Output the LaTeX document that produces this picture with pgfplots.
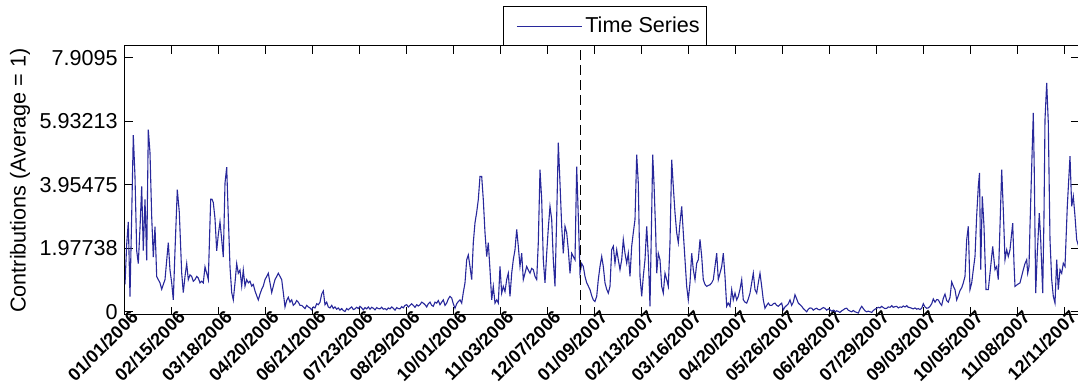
\documentclass[border=0pt]{standalone}
\usepackage{fontspec}
\setmainfont{Liberation Sans}
\usepackage{pgfplots}
\pgfplotsset{compat=1.18}
\definecolor{series}{RGB}{40,40,155}
\begin{document}
\begin{tikzpicture}
\begin{axis}[
  name=ax, at={(0,0)}, anchor=south west,
  scale only axis, width=477pt, height=134.5pt,
  xmin=0, xmax=954, ymin=-0.1, ymax=8.27,
  xtick={0,46.95,93.9,140.85,187.8,234.75,281.7,328.65,375.6,422.55,469.5,516.45,563.4,610.35,657.3,704.25,751.2,798.15,845.1,892.05,939},
  xticklabels={01/01/2006,02/15/2006,03/18/2006,04/20/2006,06/21/2006,07/23/2006,08/29/2006,10/01/2006,11/03/2006,12/07/2006,01/09/2007,02/13/2007,03/16/2007,04/20/2007,05/26/2007,06/28/2007,07/29/2007,09/03/2007,10/05/2007,11/08/2007,12/11/2007},
  ytick={0,1.97738,3.95475,5.93213,7.9095},
  yticklabels={0,1.97738,3.95475,5.93213,7.9095},
  tick align=inside, xtick pos=both, ytick pos=both,
  major tick length=4pt,
  axis line style={black, line width=0.5pt},
  tick style={black, line width=0.5pt},
  yticklabel style={font=\fontsize{10.8}{12}\selectfont, inner sep=0pt, xshift=-3.5pt},
  xticklabel style={font=\fontsize{9}{11}\selectfont\bfseries, inner sep=0pt, xshift=5pt, yshift=0.5pt, rotate=45, anchor=east},
  ylabel={Contributions (Average = 1)},
  every axis y label/.style={at={(axis description cs:0,0.5)}, xshift=-52.5pt, rotate=90, anchor=center, font=\fontsize{10.8}{13}\selectfont},
  legend style={at={(0.5,1)}, anchor=south, xshift=1.5pt, draw=black, line width=0.5pt, fill=white, font=\fontsize{10.8}{13}\selectfont, inner xsep=2pt, inner ysep=3.5pt, nodes={inner sep=1.5pt}},
  legend image code/.code={\path (0pt,0pt); \draw[#1] (4.5pt,0pt) -- (37pt,0pt);},
]
\addplot[series, line width=0.55pt] coordinates {
(0,0.85) (1.7,2.1) (3.3,2.8) (5,0.47) (6.7,3.0) (8.3,5.5) (10,4.2) (11.7,1.9) (13.3,1.5) (15,2.6) (16.7,3.9) (18.3,1.9) (20,3.5) (21.7,1.6) (23.3,5.67) (25,4.95) (26.7,2.96) (28.3,1.7) (30,2.65) (31.7,1.1) (33.3,1.0) (35,0.9) (36.7,0.7) (38.3,0.85) (40,1.0) (41.7,1.6) (43.3,2.15) (45,1.3) (46.7,0.9) (48.3,0.37) (50,1.9) (52.3,3.8) (54.3,3.1) (56.7,1.2) (58.3,0.6) (60,1.1) (61.7,1.5) (63.3,1.0) (65,1.15) (66.7,1.1) (68.3,0.95) (70,1.0) (71.7,1.1) (73.3,1.05) (75,0.9) (76.7,0.95) (78.3,0.9) (80,1.4) (81.7,1.2) (83.3,1.0) (85.7,3.5) (87,3.5) (88.3,3.4) (90,2.9) (91.7,1.9) (93.3,2.4) (95,2.8) (96.7,2.25) (98.3,1.7) (100,4.0) (101.7,4.5) (103.3,2.96) (105,1.4) (106.7,0.6) (108.3,0.37) (110,0.9) (111.7,1.5) (113.3,1.2) (115,1.3) (116.7,0.8) (118.3,1.3) (120,0.8) (121.7,1.0) (123.3,0.9) (125,0.95) (126.7,0.8) (128.3,0.85) (130,0.65) (131.7,0.5) (133.3,0.37) (135,0.55) (136.7,0.7) (138.3,0.8) (140,1.0) (141.7,1.1) (143.3,1.2) (145,0.9) (146.7,0.6) (148.3,0.8) (150,1.0) (151.7,1.1) (153.3,1.2) (155,1.1) (156.7,1.0) (158.3,0.6) (160,0.15) (161.7,0.35) (163.3,0.45) (165,0.3) (166.7,0.37) (168.3,0.2) (170,0.25) (171.7,0.35) (173.3,0.3) (175,0.2) (176.7,0.2) (178.3,0.15) (180,0.1) (181.7,0.2)
(183.3,0.15) (185,0.12) (186.7,0.06) (188.3,0.15) (190,0.12) (191.7,0.25) (193.3,0.22) (195,0.3) (196.7,0.55) (198.3,0.65) (200,0.22) (201.7,0.3) (203.3,0.15) (205,0.12) (206.7,0.2) (208.3,0.1) (210,0.15) (211.7,0.08) (213.3,0.12) (215,0.05) (216.7,0.1) (218.3,0.04) (220,0.01) (221.7,0.1) (223.3,0.06) (225,0.11) (226.7,0.15) (228.3,0.07) (230,0.09) (231.7,0.14) (233.3,0.1) (235,0.17) (236.7,0.12) (238.3,0.06) (240,0.13) (241.7,0.09) (243.3,0.15) (245,0.08) (246.7,0.14) (248.3,0.11) (250,0.06) (251.7,0.13) (253.3,0.1) (255,0.09) (256.7,0.14) (258.3,0.08) (260,0.1) (261.7,0.06) (263.3,0.12) (265,0.09) (266.7,0.15) (268.3,0.11) (270,0.05) (271.7,0.13) (273.3,0.1) (275,0.09) (276.7,0.16) (278.3,0.12) (280,0.2) (281.7,0.22) (283.3,0.15) (285,0.2) (286.7,0.25) (288.3,0.2) (290,0.14) (291.7,0.22) (293.3,0.18) (295,0.22) (296.7,0.3) (298.3,0.27) (300,0.22) (301.7,0.15) (303.3,0.25) (305,0.3) (306.7,0.2) (308.3,0.17) (310,0.3) (311.7,0.27) (313.3,0.35) (315,0.22) (316.7,0.3) (318.3,0.37) (320,0.2) (321.7,0.27) (323.3,0.4) (325,0.48) (326.7,0.43) (328.3,0.25) (330,0.11) (331.7,0.25) (333.3,0.32) (335,0.37) (336.7,0.27) (338.3,0.6)
(340,0.9) (341.7,1.62) (343.3,1.77) (345,1.41) (346.7,1.0) (348.3,2.15) (350,2.77) (351.7,3.1) (353.3,3.49) (355,4.21) (356.7,4.21) (358.3,3.49) (360,2.46) (361.7,1.72) (363.3,2.15) (365,1.31) (366.7,0.37) (368.3,0.79) (370,0.27) (371.7,0.37) (373.3,0.27) (375,1.41) (376.7,0.58) (378.3,0.79) (380,0.63) (381.7,1.0) (383.3,1.2) (385,0.48) (386.7,1.2) (388.3,1.62) (390,1.93) (391.7,2.56) (393.3,2.04) (395,1.41) (396.7,1.82) (398.3,1.0) (400,1.2) (401.7,1.41) (403.3,1.3) (405,1.2) (406.7,1.35) (408.3,1.31) (410,1.1) (411.7,1.0) (413.3,2.15) (415,4.42) (416.7,3.49) (418.3,1.62) (420,0.9) (421.7,1.82) (423.3,2.6) (425,3.28) (426.7,2.87) (428.3,1.62) (430,0.79) (431.7,2.97) (433.3,5.26) (435,4.0) (436.7,2.66) (438.3,1.82) (440,2.66) (441.7,2.46) (443.3,1.93) (445,1.2) (446.7,1.82) (448.3,1.72) (450,1.62) (451.7,4.52) (453.3,2.97) (455,1.2) (456.7,1.5) (458.3,1.41) (460,1.1) (461.7,0.9) (463.3,0.8) (465,0.69)
(466.7,0.5) (468.3,0.37) (470,0.32) (471.7,0.48) (473.3,1.0) (475,1.41) (476.7,1.72) (478.3,1.41) (480,0.9) (481.7,0.7) (483.3,0.58) (485,0.79) (486.7,1.93) (488.3,2.04) (490,1.51) (491.7,1.93) (493.3,1.62) (495,1.31) (496.7,1.62) (498.3,2.25) (500,1.82) (501.7,1.51) (503.3,1.82) (505,1.1) (506.7,2.04) (508.3,2.46) (510,2.87) (511.7,4.89) (513.3,4.0) (515,1.1) (516.7,0.48) (518.3,1.1) (520,1.62) (521.7,2.66) (523.3,1.72) (525,0.17) (526.7,3.08) (527.7,4.89) (529,4.0) (530.7,2.46) (531.7,1.2) (533.3,1.82) (535,1.62) (536.7,0.79) (538.3,0.58) (540,1.2) (541.7,1.0) (543.3,0.79) (545,2.15) (546.7,4.73) (548.3,3.9) (550,3.08) (551.7,2.46) (553.3,2.15) (555,2.77) (556.7,3.28) (558.3,2.46) (560,1.62) (561.7,0.79) (563.3,0.37) (565,0.9) (566.7,1.82) (568.3,1.31) (570,1.0) (571.7,1.51) (573.3,1.62) (575,2.25) (576.7,1.72) (578.3,1.0) (580,0.85) (581.7,0.79) (583.3,0.82) (585,0.84) (586.7,0.9) (588.3,1.0) (590,1.41) (591.7,1.82) (593.3,1.0) (595,1.2) (596.7,1.41) (598.3,1.82) (600,1.1) (601.7,0.17) (603.3,0.27) (605,0.17) (606.7,0.69) (608.3,0.37) (610,0.58) (611.7,0.37) (613.3,0.48) (615,0.7) (616.7,1.0) (618.3,0.37) (620,0.3) (621.7,0.27) (623.3,0.4) (625,0.58) (626.7,0.9) (628.3,1.2) (630,0.69) (631.7,0.58) (633.3,0.9) (635,1.2) (636.7,0.79) (638.3,0.37) (640,0.11) (641.7,0.2) (643.3,0.27) (645,0.2)
(646.7,0.2) (648.3,0.25) (650,0.27) (651.7,0.2) (653.3,0.17) (655,0.22) (656.7,0.27) (658.3,0.06) (660,0.15) (661.7,0.2) (663.3,0.25) (665,0.37) (666.7,0.2) (668.3,0.3) (670,0.53) (671.7,0.4) (673.3,0.27) (675,0.22) (676.7,0.17) (678.3,0.1) (680,0.05) (681.7,0.0) (683.3,0.08) (685,0.12) (686.7,0.11) (688.3,0.05) (690,0.09) (691.7,0.11) (693.3,0.07) (695,0.06) (696.7,0.1) (698.3,0.13) (700,0.11) (701.7,0.05) (703.3,0.09) (705,0.06) (706.7,0.02) (708.3,0.05) (710,0.0) (711.7,0.03) (713.3,0.01) (715,-0.02) (716.7,0.03) (718.3,0.06) (720,0.1) (721.7,0.11) (723.3,0.05) (725,0.02) (726.7,0.0) (728.3,0.04) (730,0.0) (731.7,-0.02) (733.3,-0.04) (735,0.08) (736.7,0.17) (738.3,0.1) (740,0.03) (741.7,0.0) (743.3,0.02) (745,0.0) (746.7,-0.02) (748.3,0.04) (750,0.08) (751.7,0.11) (753.3,0.14) (755,0.12) (756.7,0.17) (758.3,0.13) (760,0.1) (761.7,0.11) (763.3,0.15) (765,0.14) (766.7,0.19) (768.3,0.14) (770,0.16) (771.7,0.17) (773.3,0.12) (775,0.15) (776.7,0.14) (778.3,0.18) (780,0.15) (781.7,0.19) (783.3,0.14) (785,0.13) (786.7,0.11) (788.3,0.09) (790,0.12) (791.7,0.08) (793.3,0.1) (795,0.07) (796.7,0.11) (798.3,0.25) (800,0.15) (801.7,0.11) (803.3,0.12) (805,0.17) (806.7,0.25) (808.3,0.4) (810,0.3) (811.7,0.38) (813.3,0.37) (815,0.27) (816.7,0.2) (818.3,0.42) (820,0.55) (821.7,0.35) (823.3,0.3) (825,0.45) (826.7,0.93) (828.3,0.8) (830,0.69) (831.7,0.37) (833.3,0.5) (835,0.66) (836.7,0.75) (838.3,0.9) (840,1.1)
(841.7,2.24) (843.3,2.66) (845,0.69) (846.7,0.9) (848.3,1.31) (850,1.72) (851.7,3.0) (853.3,3.9) (854.5,4.32) (855.7,1.31) (857.3,3.59) (859,2.66) (861,0.69) (863.3,0.69) (865,1.2) (867.7,2.03) (870,1.31) (871.7,1.41) (873.3,1.0) (875,2.66) (876.7,4.42) (878.3,3.17) (880,1.62) (881.7,1.93) (883.3,1.72) (885,1.93) (887.7,2.76) (889,1.5) (890,0.79) (892.5,0.85) (895,0.9) (898.3,1.31) (900,1.5) (901.7,1.62) (902.7,1.2) (904,1.4) (905,2.66) (906.7,4.52) (908.3,6.19) (909.3,4.32) (910.7,0.58) (912.3,1.83) (914.3,3.07) (915.7,2.24) (917.7,0.58) (919,3.0) (920,5.98) (921.7,7.12) (923.3,5.88) (925,2.24) (926.7,1.0) (928.3,0.48) (930,0.27) (931.7,1.62) (933.3,0.69) (935,1.31) (936.7,1.2) (938.3,1.51) (940,1.41) (942.3,3.28) (945,4.84) (946.7,3.28) (948.3,3.59) (950,2.97) (951.7,2.24) (954,2.0)
};
\addlegendentry{Time Series}
\addplot[black, line width=0.5pt, dash pattern=on 5pt off 2.5pt, forget plot] coordinates {(455,-0.1) (455,8.27)};
\end{axis}
\pgfresetboundingbox
\useasboundingbox (-62.5pt,-35pt) rectangle (476.5pt,157.5pt);
\end{tikzpicture}
\end{document}
